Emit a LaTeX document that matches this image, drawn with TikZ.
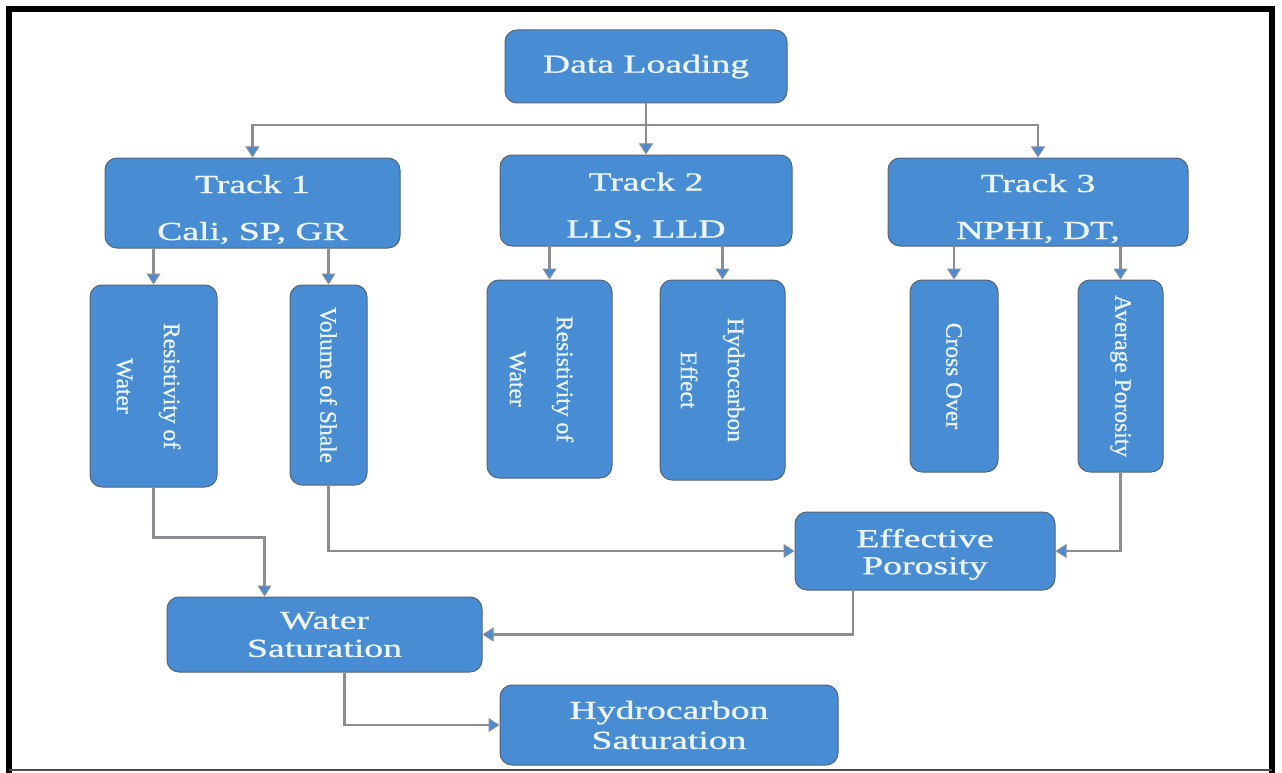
\documentclass[tikz,border=0pt]{standalone}
\usepackage{fontspec}
\setmainfont{Liberation Serif}
\newfontfamily\boxfont{Liberation Serif}[FakeBold=0.8]
\usepackage{graphicx}
\usetikzlibrary{arrows.meta}
\definecolor{boxblue}{RGB}{72,141,212}
\definecolor{boxedge}{RGB}{85,100,120}
\definecolor{boxtext}{RGB}{236,246,252}
\definecolor{linegray}{RGB}{140,140,146}
\newcommand{\hx}[1]{\scalebox{1.45}[1]{#1}}
\begin{document}
\begin{tikzpicture}[x=1pt,y=-1pt,
 box/.style={draw=boxedge, fill=boxblue, rounded corners=12pt, line width=1pt, inner sep=0pt, text=boxtext, align=center, font=\boxfont\fontsize{26}{30}\selectfont},
 vtext/.style={rotate=-90, text=boxtext, align=center, inner sep=0pt, font=\boxfont\fontsize{23.5}{27}\selectfont},
 ln/.style={draw=linegray, line width=2.2pt},
 arr/.style={ln, -{Triangle[length=11pt,width=14pt,fill=boxblue,line width=1pt]}}]
\useasboundingbox (0,0) rectangle (1282,773);
\fill[white] (0,0) rectangle (1282,773);
% frame
\draw[line width=6pt] (9,6) -- (9,773);
\draw[line width=6pt] (6,9) -- (1275,9);
\draw[line width=6pt] (1272,6) -- (1272,773);
\draw[line width=1.5pt, black!70] (9,770) -- (1272,770);
% nodes
\node[box, minimum width=282pt, minimum height=73pt] (dl) at (646,66.5) {\hx{Data Loading}};
\node[box, minimum width=295pt, minimum height=90pt] (t1) at (252.5,203) {\rule{0pt}{31pt}\hx{Track 1}\\[17pt]\hx{Cali, SP, GR}};
\node[box, minimum width=292pt, minimum height=91pt] (t2) at (646,200.5) {\rule{0pt}{31pt}\hx{Track 2}\\[17pt]\hx{LLS, LLD}};
\node[box, minimum width=300pt, minimum height=88pt] (t3) at (1038,202) {\rule{0pt}{31pt}\hx{Track 3}\\[17pt]\hx{NPHI, DT,}};
\node[box, minimum width=127pt, minimum height=202pt] (r1) at (153.5,386) {};
\node[vtext] (r1t) at ([xshift=-5pt]r1.center) {Resistivity of\\[20pt]Water};
\node[box, minimum width=77pt, minimum height=200pt] (vs) at (328.5,385) {};
\node[vtext] (vst) at (vs.center) {Volume of Shale};
\node[box, minimum width=125pt, minimum height=198pt] (r2) at (549.5,379) {};
\node[vtext] (r2t) at ([xshift=-8pt]r2.center) {Resistivity of\\[20pt]Water};
\node[box, minimum width=125pt, minimum height=200pt] (he) at (722.5,380) {};
\node[vtext] (het) at ([xshift=-10pt]he.center) {Hydrocarbon\\[20pt]Effect};
\node[box, minimum width=88pt, minimum height=192pt] (co) at (954,376) {};
\node[vtext] (cot) at (co.center) {Cross Over};
\node[box, minimum width=85pt, minimum height=192pt] (ap) at (1120.5,376) {};
\node[vtext] (apt) at (ap.center) {Average Porosity};
\node[box, minimum width=260pt, minimum height=78pt] (ep) at (925,551) {\rule{0pt}{25pt}\hx{Effective}\\[-3pt]\hx{Porosity}};
\node[box, minimum width=315pt, minimum height=75pt] (ws) at (324.5,634.5) {\hx{Water}\\[-2pt]\hx{Saturation}};
\node[box, minimum width=338pt, minimum height=80pt] (hs) at (669,725) {\hx{Hydrocarbon}\\[0pt]\hx{Saturation}};
% connectors
\coordinate (bus) at (646,125);
\draw[ln] (dl.south) -- (bus);
\draw[arr] (bus) -| (t1.north);
\draw[arr] (bus) -- (t2.north);
\draw[arr] (bus) -| (t3.north);
\draw[arr] (r1.north |- t1.south) -- (r1.north);
\draw[arr] (vs.north |- t1.south) -- (vs.north);
\draw[arr] (r2.north |- t2.south) -- (r2.north);
\draw[arr] (he.north |- t2.south) -- (he.north);
\draw[arr] (co.north |- t3.south) -- (co.north);
\draw[arr] (ap.north |- t3.south) -- (ap.north);
\draw[arr] (r1.south) -- ++(0,50) -| ([xshift=-60pt]ws.north);
\draw[arr] (vs.south) |- (ep.west);
\draw[arr] (ap.south) |- (ep.east);
\draw[arr] ([xshift=-72pt]ep.south) |- (ws.east);
\draw[arr] ([xshift=20pt]ws.south) |- (hs.west);
\end{tikzpicture}
\end{document}
